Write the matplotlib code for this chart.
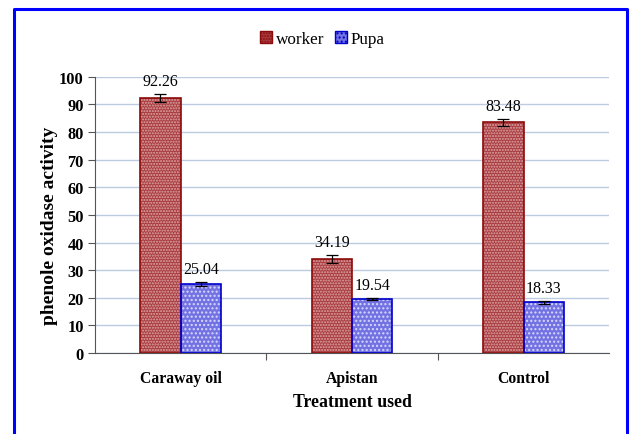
import matplotlib
matplotlib.use("Agg")
import matplotlib.pyplot as plt
import numpy as np
from matplotlib.lines import Line2D

# data
treatments = ["Caraway oil", "Apistan", "Control"]
worker = [92.26, 34.19, 83.48]
pupa = [25.04, 19.54, 18.33]
worker_err = [1.5, 1.5, 1.1]
pupa_err = [0.8, 0.4, 0.6]
yticks = [0, 10, 20, 30, 40, 50, 60, 70, 80, 90, 100]

plt.rcParams['font.family'] = ['Liberation Serif', 'DejaVu Serif']
plt.rcParams['hatch.linewidth'] = 1.0

fig = plt.figure(figsize=(6.32, 4.35), dpi=100)
ax = fig.add_axes([0.150, 0.186, 0.814, 0.635])

x = np.arange(len(treatments))
w = 0.235

# worker bars: hatched fill then dark outline
ax.bar(x - w / 2, worker, w, color='#a83c40', hatch='......', edgecolor='#e0a8a8', lw=0, zorder=2)
ax.bar(x - w / 2, worker, w, fill=False, edgecolor='#8b0a0a', lw=1.2, zorder=3, label='worker')
# pupa bars
ax.bar(x + w / 2, pupa, w, color='#7272e2', hatch='....', edgecolor='#d8d8ff', lw=0, zorder=2)
ax.bar(x + w / 2, pupa, w, fill=False, edgecolor='#0000cc', lw=1.2, zorder=3, label='Pupa')

ax.errorbar(x - w / 2, worker, yerr=worker_err, fmt='none', ecolor='black', elinewidth=0.9, capsize=4, capthick=0.9, zorder=4)
ax.errorbar(x + w / 2, pupa, yerr=pupa_err, fmt='none', ecolor='black', elinewidth=0.9, capsize=4, capthick=0.9, zorder=4)

for xi, v, e in zip(x - w / 2, worker, worker_err):
    ax.text(xi, v + e + 1.8, "%.2f" % v, ha='center', va='bottom', fontsize=11.5)
for xi, v, e in zip(x + w / 2, pupa, pupa_err):
    ax.text(xi, v + e + 1.8, "%.2f" % v, ha='center', va='bottom', fontsize=11.5)

ax.set_ylim(0, 100)
ax.set_xlim(-0.5, 2.5)
ax.set_yticks(yticks)
ax.set_yticklabels([str(t) for t in yticks], fontsize=11.8, fontweight='bold')
ax.yaxis.grid(True, color='#bccbe0', lw=1)
ax.set_axisbelow(True)

ax.set_xticks([0.5, 1.5])
ax.set_xticklabels([])
ax.set_xticks(x, minor=True)
ax.set_xticklabels(treatments, minor=True, fontsize=11.3, fontweight='bold')
ax.tick_params(axis='x', which='minor', length=0, pad=12)
ax.tick_params(axis='x', which='major', length=5, color='#555555')
ax.tick_params(axis='y', length=5, color='#555555', pad=3)

for s in ['top', 'right']:
    ax.spines[s].set_visible(False)
for s in ['left', 'bottom']:
    ax.spines[s].set_color('#555555')

ax.set_ylabel('phenole oxidase activity', fontsize=14, fontweight='bold', labelpad=2)
ax.yaxis.set_label_coords(-0.071, 0.465)
ax.set_xlabel('Treatment used', fontsize=12.8, fontweight='bold', labelpad=5)

h1 = plt.Rectangle((0, 0), 1, 1, facecolor='#a83c40', hatch='......', edgecolor='#8b0a0a')
h2 = plt.Rectangle((0, 0), 1, 1, facecolor='#7272e2', hatch='....', edgecolor='#0000cc')
fig.legend([h1, h2], ['worker', 'Pupa'], loc='center', bbox_to_anchor=(0.51, 0.908),
           ncol=2, frameon=False, fontsize=12.3, handlelength=0.7, handleheight=0.7,
           handletextpad=0.25, columnspacing=0.6)

# blue frame around the figure
fig.add_artist(Line2D([0.022, 0.022, 0.992, 0.992], [0.0, 0.977, 0.977, 0.0],
                      color='#0000ff', lw=2.2, transform=fig.transFigure))

fig.savefig('out.png', dpi=100)
